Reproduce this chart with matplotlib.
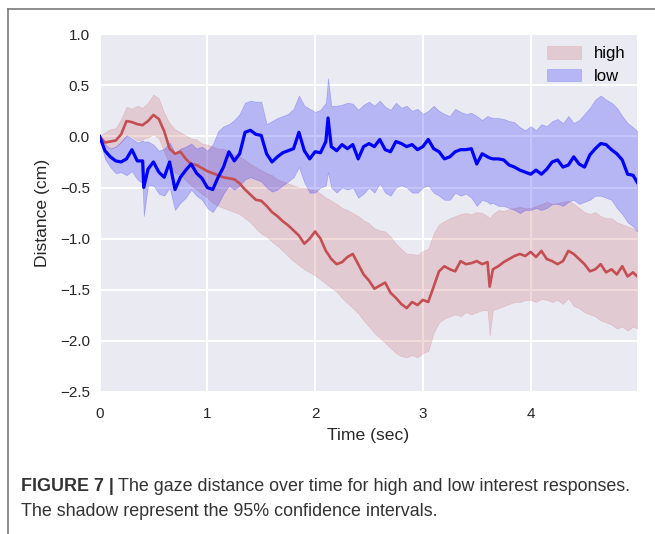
import matplotlib
matplotlib.use('Agg')
import matplotlib.pyplot as plt
from matplotlib.lines import Line2D

plt.rcParams['font.family'] = ['Liberation Sans', 'DejaVu Sans']

# time grid (sec), with a few extra samples where the traces spike
time = [0.00, 0.05, 0.10, 0.15, 0.20, 0.25, 0.30, 0.35, 0.40, 0.41, 0.45, 0.50, 0.55, 0.60, 0.65, 0.70, 0.75, 0.80, 0.85, 0.90, 0.95,
        1.00, 1.05, 1.10, 1.15, 1.20, 1.25, 1.30, 1.35, 1.40, 1.45, 1.50, 1.55, 1.60, 1.65, 1.70, 1.75, 1.80, 1.85, 1.90, 1.95,
        2.00, 2.05, 2.10, 2.12, 2.15, 2.20, 2.25, 2.30, 2.35, 2.40, 2.45, 2.50, 2.55, 2.60, 2.65, 2.70, 2.75, 2.80, 2.85, 2.90, 2.95,
        3.00, 3.05, 3.10, 3.15, 3.20, 3.25, 3.30, 3.35, 3.40, 3.45, 3.50, 3.55, 3.60, 3.62, 3.65, 3.70, 3.75, 3.80, 3.85, 3.90, 3.95,
        4.00, 4.05, 4.10, 4.15, 4.20, 4.25, 4.30, 4.35, 4.40, 4.45, 4.50, 4.55, 4.60, 4.65, 4.70, 4.75, 4.80, 4.85, 4.90, 4.95, 4.99]

high_mean = [0.00, -0.06, -0.05, -0.04, 0.02, 0.15, 0.14, 0.12, 0.11, 0.12, 0.15, 0.21, 0.17, 0.05, -0.12, -0.17, -0.15, -0.22, -0.27, -0.28, -0.31,
             -0.34, -0.36, -0.38, -0.40, -0.41, -0.42, -0.46, -0.52, -0.57, -0.62, -0.63, -0.68, -0.74, -0.78, -0.83, -0.87, -0.92, -0.97, -1.05, -1.00,
             -0.93, -1.00, -1.12, -1.15, -1.20, -1.25, -1.23, -1.18, -1.15, -1.25, -1.35, -1.41, -1.49, -1.46, -1.43, -1.53, -1.58, -1.64, -1.68, -1.62, -1.65,
             -1.60, -1.62, -1.47, -1.32, -1.27, -1.30, -1.32, -1.22, -1.25, -1.24, -1.22, -1.25, -1.23, -1.47, -1.30, -1.27, -1.23, -1.20, -1.17, -1.15, -1.17,
             -1.13, -1.18, -1.12, -1.20, -1.22, -1.25, -1.22, -1.12, -1.15, -1.20, -1.25, -1.32, -1.30, -1.25, -1.33, -1.30, -1.35, -1.27, -1.37, -1.33, -1.37]
high_hi = [0.00, 0.04, 0.07, 0.08, 0.17, 0.29, 0.27, 0.30, 0.28, 0.29, 0.33, 0.41, 0.37, 0.23, 0.13, 0.07, 0.04, 0.01, -0.02, -0.03, -0.07,
           -0.08, -0.10, -0.12, -0.12, -0.15, -0.18, -0.20, -0.23, -0.27, -0.30, -0.33, -0.36, -0.38, -0.42, -0.44, -0.46, -0.48, -0.50, -0.50, -0.52,
           -0.52, -0.56, -0.60, -0.61, -0.63, -0.66, -0.70, -0.72, -0.75, -0.78, -0.82, -0.85, -0.90, -0.92, -0.93, -0.98, -1.05, -1.10, -1.15, -1.15, -1.16,
           -1.12, -1.10, -0.95, -0.86, -0.83, -0.80, -0.78, -0.76, -0.75, -0.76, -0.74, -0.75, -0.78, -0.80, -0.76, -0.72, -0.73, -0.71, -0.70, -0.69, -0.70,
           -0.70, -0.68, -0.66, -0.64, -0.66, -0.65, -0.64, -0.63, -0.66, -0.70, -0.74, -0.76, -0.74, -0.78, -0.80, -0.80, -0.84, -0.86, -0.88, -0.90, -0.93]
high_lo = [0.00, -0.08, -0.12, -0.10, -0.06, 0.01, 0.00, -0.04, -0.03, -0.02, -0.01, 0.02, -0.02, -0.15, -0.28, -0.35, -0.38, -0.43, -0.48, -0.52, -0.56,
           -0.60, -0.65, -0.68, -0.70, -0.72, -0.74, -0.76, -0.80, -0.84, -0.90, -0.95, -0.98, -1.03, -1.07, -1.12, -1.17, -1.22, -1.26, -1.30, -1.33,
           -1.36, -1.40, -1.44, -1.46, -1.48, -1.52, -1.58, -1.63, -1.68, -1.73, -1.80, -1.86, -1.92, -1.97, -2.02, -2.07, -2.12, -2.15, -2.16, -2.14, -2.16,
           -2.12, -2.10, -1.92, -1.82, -1.78, -1.76, -1.74, -1.76, -1.72, -1.74, -1.72, -1.70, -1.70, -1.95, -1.70, -1.68, -1.66, -1.64, -1.62, -1.62, -1.60,
           -1.60, -1.62, -1.59, -1.60, -1.62, -1.60, -1.64, -1.58, -1.66, -1.68, -1.72, -1.74, -1.76, -1.80, -1.82, -1.84, -1.88, -1.86, -1.90, -1.86, -1.88]

low_mean = [0.00, -0.14, -0.20, -0.24, -0.25, -0.22, -0.13, -0.24, -0.24, -0.50, -0.32, -0.25, -0.35, -0.40, -0.25, -0.52, -0.40, -0.33, -0.27, -0.36, -0.41,
            -0.50, -0.52, -0.40, -0.30, -0.15, -0.24, -0.17, 0.04, 0.06, 0.02, 0.01, -0.17, -0.25, -0.20, -0.16, -0.14, -0.12, 0.04, -0.14, -0.22,
            -0.15, -0.16, -0.05, 0.18, -0.10, -0.14, -0.08, -0.12, -0.08, -0.22, -0.10, -0.07, -0.10, -0.03, -0.13, -0.15, -0.05, -0.07, -0.10, -0.08, -0.13,
            -0.10, -0.03, -0.12, -0.15, -0.22, -0.20, -0.15, -0.13, -0.13, -0.12, -0.27, -0.17, -0.20, -0.21, -0.22, -0.22, -0.23, -0.28, -0.30, -0.33, -0.35,
            -0.37, -0.33, -0.37, -0.32, -0.25, -0.23, -0.30, -0.28, -0.20, -0.27, -0.30, -0.18, -0.12, -0.07, -0.08, -0.13, -0.17, -0.23, -0.37, -0.38, -0.45]
low_hi = [0.00, -0.08, -0.12, -0.10, -0.05, 0.01, -0.02, -0.06, -0.04, -0.05, -0.05, -0.08, -0.14, -0.12, -0.06, -0.16, -0.12, -0.10, -0.07, -0.12, -0.10,
          -0.14, -0.08, 0.05, 0.10, 0.12, 0.16, 0.22, 0.33, 0.35, 0.34, 0.34, 0.12, 0.15, 0.18, 0.20, 0.22, 0.27, 0.40, 0.30, 0.27,
          0.24, 0.26, 0.33, 0.57, 0.30, 0.30, 0.31, 0.33, 0.32, 0.26, 0.31, 0.34, 0.30, 0.35, 0.29, 0.26, 0.33, 0.28, 0.30, 0.25, 0.27,
          0.22, 0.25, 0.30, 0.25, 0.22, 0.20, 0.27, 0.24, 0.22, 0.23, 0.20, 0.16, 0.20, 0.19, 0.18, 0.18, 0.17, 0.15, 0.14, 0.09, 0.06,
          0.10, 0.06, 0.12, 0.10, 0.15, 0.17, 0.13, 0.20, 0.13, 0.16, 0.22, 0.28, 0.36, 0.40, 0.36, 0.33, 0.28, 0.20, 0.13, 0.09, 0.05]
low_lo = [0.00, -0.22, -0.30, -0.36, -0.35, -0.38, -0.34, -0.42, -0.46, -0.78, -0.48, -0.48, -0.56, -0.58, -0.50, -0.72, -0.65, -0.60, -0.52, -0.58, -0.62,
          -0.70, -0.74, -0.66, -0.56, -0.48, -0.52, -0.48, -0.42, -0.40, -0.42, -0.44, -0.50, -0.54, -0.52, -0.48, -0.44, -0.40, -0.30, -0.45, -0.55,
          -0.55, -0.50, -0.48, -0.35, -0.50, -0.55, -0.50, -0.52, -0.50, -0.60, -0.56, -0.50, -0.55, -0.46, -0.55, -0.58, -0.50, -0.48, -0.50, -0.55, -0.55,
          -0.50, -0.48, -0.55, -0.58, -0.62, -0.62, -0.55, -0.58, -0.56, -0.60, -0.68, -0.62, -0.64, -0.66, -0.65, -0.68, -0.68, -0.70, -0.72, -0.75, -0.72,
          -0.72, -0.70, -0.72, -0.70, -0.66, -0.66, -0.68, -0.64, -0.62, -0.66, -0.64, -0.62, -0.58, -0.58, -0.60, -0.62, -0.70, -0.76, -0.84, -0.88, -0.93]

labels = ['high', 'low']
red = '#C44E52'
blue = '#0000FF'

fig = plt.figure(figsize=(6.55, 5.34), dpi=100)
ax = fig.add_axes([0.152, 0.266, 0.821, 0.670])
ax.set_facecolor('#EAEAF2')
for s in ax.spines.values():
    s.set_visible(False)
ax.grid(True, color='white', linewidth=1.4)
ax.set_axisbelow(True)

band_h = ax.fill_between(time, high_lo, high_hi, color=red, alpha=0.2, linewidth=0.5, label=labels[0])
band_l = ax.fill_between(time, low_lo, low_hi, color=blue, alpha=0.22, linewidth=0.5, label=labels[1])
ax.plot(time, high_mean, color=red, linewidth=1.9)
ax.plot(time, low_mean, color=blue, linewidth=2.3)

ax.set_xlim(0, 4.99)
ax.set_ylim(-2.5, 1.0)
ax.set_xticks([0, 1, 2, 3, 4])
ax.set_yticks([-2.5, -2.0, -1.5, -1.0, -0.5, 0.0, 0.5, 1.0])
ax.tick_params(length=0, labelsize=11, colors='#262626')
ax.tick_params(axis='x', pad=11)
ax.tick_params(axis='y', pad=7)
ax.set_xlabel('Time (sec)', fontsize=12.6, color='#262626', labelpad=5)
ax.set_ylabel('Distance (cm)', fontsize=12.6, color='#262626', labelpad=7)

ax.legend(handles=[band_h, band_l], loc='upper right', frameon=False, fontsize=12,
          handlelength=2.0, handleheight=0.8, handletextpad=0.8, labelspacing=0.45,
          borderaxespad=0.3)

# page frame around the figure
fig.add_artist(Line2D([7.5 / 655, 1], [1 - 8.5 / 534, 1 - 8.5 / 534], color='#7a7a7a', linewidth=1.2))
fig.add_artist(Line2D([7.5 / 655, 7.5 / 655], [0, 1 - 8.5 / 534], color='#7a7a7a', linewidth=1.2))

# caption
cap_y = 1 - 491 / 534
t1 = fig.text(21 / 655, cap_y, 'FIGURE 7 |', fontsize=12.9, fontweight='bold', color='#333333', va='baseline')
fig.canvas.draw()
bb = t1.get_window_extent()
fig.text((bb.x1 + 4) / 655, cap_y, 'The gaze distance over time for high and low interest responses.',
         fontsize=12.9, color='#333333', va='baseline')
fig.text(21 / 655, 1 - 516 / 534, 'The shadow represent the 95% confidence intervals.',
         fontsize=12.9, color='#333333', va='baseline')

fig.savefig('out.png', dpi=100)
